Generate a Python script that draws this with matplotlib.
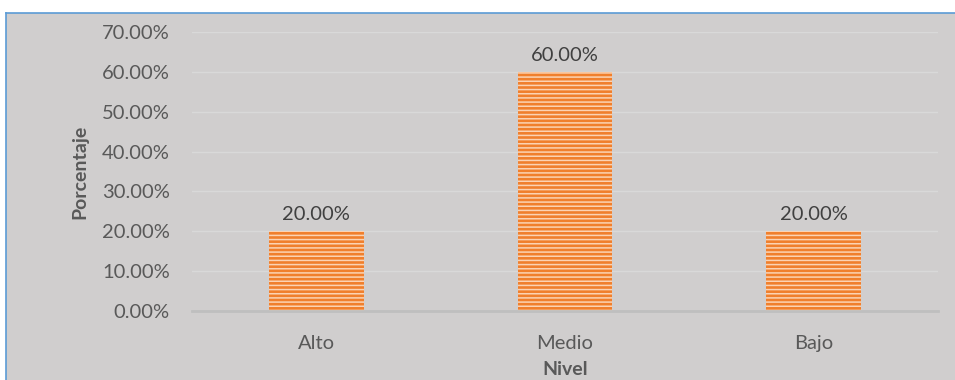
import matplotlib
matplotlib.use("Agg")
import matplotlib.pyplot as plt
from matplotlib.patches import Rectangle
from matplotlib.ticker import FuncFormatter

categories = ["Alto", "Medio", "Bajo"]
values = [0.20, 0.60, 0.20]
y_ticks = [0.0, 0.1, 0.2, 0.3, 0.4, 0.5, 0.6, 0.7]

W, H = 955, 380
bg = "#d0cece"
text_col = "#595959"
font = ["Lato", "DejaVu Sans"]

fig = plt.figure(figsize=(W / 100, H / 100), dpi=100, facecolor="white")

# chart frame with blue left/top border, drawn beneath the axes
frame = Rectangle((6 / W, 0), 1 - 6 / W, 1 - 13 / H, transform=fig.transFigure,
                  facecolor=bg, edgecolor="none", zorder=-5)
fig.add_artist(frame)
fig.add_artist(plt.Line2D([6 / W, 1], [1 - 13 / H, 1 - 13 / H], color="#5b9bd5",
                          lw=1.2, transform=fig.transFigure, zorder=-4))
fig.add_artist(plt.Line2D([6 / W, 6 / W], [0, 1 - 13 / H], color="#5b9bd5",
                          lw=1.2, transform=fig.transFigure, zorder=-4))

ax = fig.add_axes([192 / W, 69 / H, (938 - 192) / W, (311 - 32) / H])
ax.patch.set_alpha(0)

plt.rcParams["hatch.linewidth"] = 1.1
x = list(range(len(categories)))
bars = ax.bar(x, values, width=0.38, color="#f07f2c", edgecolor="#fbd3b3",
              linewidth=0, hatch="----", zorder=3)

for xi, v in zip(x, values):
    ax.text(xi, v + 0.042, f"{v * 100:.2f}%", ha="center", va="center",
            fontsize=14.5, color="#404040", family=font)

ax.set_xlim(-0.5, 2.5)
ax.set_ylim(0, 0.7)
ax.set_yticks(y_ticks)
ax.yaxis.set_major_formatter(FuncFormatter(lambda v, p: f"{v * 100:.2f}%"))
ax.set_xticks(x)
ax.set_xticklabels(categories)
ax.tick_params(length=0, colors=text_col, labelsize=14.5)
ax.tick_params(axis="y", pad=16)
ax.tick_params(axis="x", pad=17)
for lab in ax.get_xticklabels() + ax.get_yticklabels():
    lab.set_family(font)

ax.grid(axis="y", color="#d9d9d9", lw=1, zorder=0)
for s in ["top", "right", "left"]:
    ax.spines[s].set_visible(False)
ax.spines["bottom"].set_color("#bfbfbf")
ax.spines["bottom"].set_linewidth(2)
ax.spines["bottom"].set_zorder(4)

ax.set_xlabel("Nivel", fontsize=14, fontweight="bold", color=text_col,
              family=font, labelpad=7)
ax.set_ylabel("Porcentaje", fontsize=14, fontweight="bold", color=text_col,
              family=font, labelpad=10)

fig.savefig("out.png", dpi=100, facecolor="white")
